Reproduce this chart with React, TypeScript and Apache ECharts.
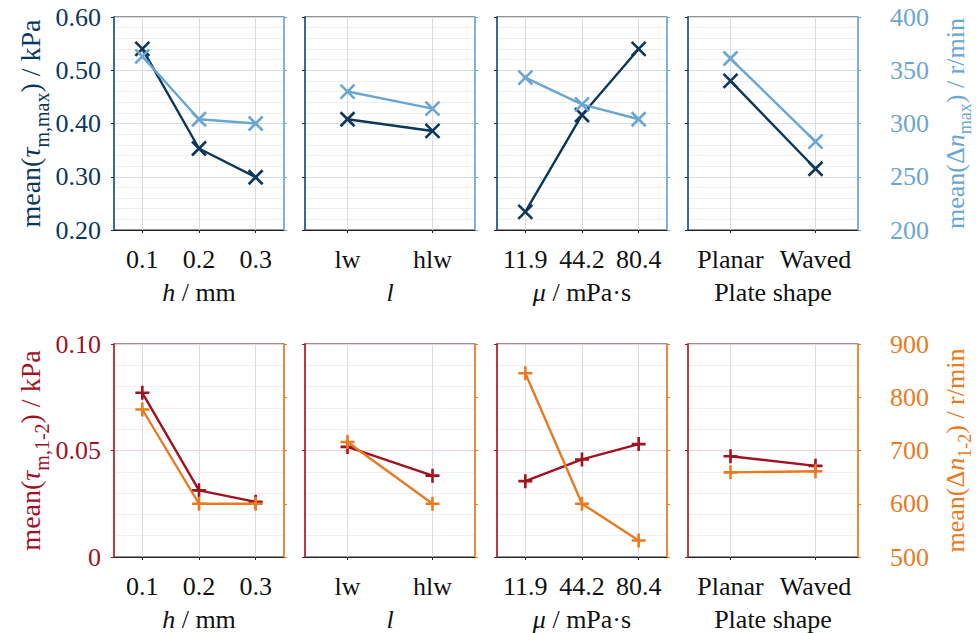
import React, { useEffect, useRef } from 'react';
import * as echarts from 'echarts';

// ---------- data ----------
const hCats = ['0.1', '0.2', '0.3'];
const lCats = ['lw', 'hlw'];
const muCats = ['11.9', '44.2', '80.4'];
const plateCats = ['Planar', 'Waved'];

// top row: mean(tau_m,max) / kPa (left) and mean(Δn_max) / r/min (right)
const tauMaxH = [0.54, 0.353, 0.299];
const nMaxH = [363, 304, 300];
const tauMaxL = [0.408, 0.386];
const nMaxL = [330, 314];
const tauMaxMu = [0.234, 0.416, 0.54];
const nMaxMu = [343, 318, 304];
const tauMaxPlate = [0.48, 0.315];
const nMaxPlate = [361, 283];

// bottom row: mean(tau_m,1-2) / kPa (left) and mean(Δn_1-2) / r/min (right)
const tau12H = [0.0771, 0.0313, 0.0259];
const n12H = [777, 600, 600];
const tau12L = [0.0517, 0.0382];
const n12L = [716, 600];
const tau12Mu = [0.0356, 0.0458, 0.053];
const n12Mu = [845, 600, 531];
const tau12Plate = [0.0473, 0.0428];
const n12Plate = [659, 661];

const xNames = ['{i|h}{a| / mm}', '{i|l}', '{i|μ}{a| / mPa·s}', '{a|Plate shape}'];

// ---------- style ----------
const SERIF = 'Liberation Serif';
const NAVY = '#0c375b';
const LBLUE = '#6ba6d2';
const RED = '#a0121f';
const ORANGE = '#ea7a22';
const INK = '#111111';
const FS = 26;

const COL_LEFT = [114, 305, 497, 688];
const ROW_TOP = [17, 344];
const W = 170;
const H = 213;

const X_SYM = 'path://M0,0L10,10M10,0L0,10';
const P_SYM = 'path://M5,0L5,10M0,5L10,5';

function nameRich(color: string, fs: number, sfs: number, drop: number) {
  return {
    a: { fontFamily: SERIF, fontSize: fs, color, lineHeight: fs, verticalAlign: 'top' },
    t: { fontFamily: SERIF, fontSize: fs, color, fontStyle: 'italic', lineHeight: fs, verticalAlign: 'top' },
    s: { fontFamily: SERIF, fontSize: sfs, color, lineHeight: sfs, verticalAlign: 'top', padding: [drop, 0, 0, 0] },
  };
}

function plainRich(color: string) {
  return {
    a: { fontFamily: SERIF, fontSize: FS, color },
    i: { fontFamily: SERIF, fontSize: FS, color, fontStyle: 'italic' },
  };
}

const rows = [
  {
    panels: [
      { cats: hCats, l: tauMaxH, r: nMaxH },
      { cats: lCats, l: tauMaxL, r: nMaxL },
      { cats: muCats, l: tauMaxMu, r: nMaxMu },
      { cats: plateCats, l: tauMaxPlate, r: nMaxPlate },
    ],
    lMin: 0.2, lMax: 0.6, lInt: 0.1,
    rMin: 200, rMax: 400, rInt: 50,
    lColor: NAVY, rColor: LBLUE,
    lAxis: '#3c6a92', rAxis: '#7fb2da',
    major: '#d5dce4', minor: '#eeeeee',
    sym: X_SYM,
    lName: '{a|mean(}{t|τ}{s|m,max}{a|) / kPa}',
    rName: '{a|mean(Δ}{t|n}{s|max}{a|) / r/min}',
  },
  {
    panels: [
      { cats: hCats, l: tau12H, r: n12H },
      { cats: lCats, l: tau12L, r: n12L },
      { cats: muCats, l: tau12Mu, r: n12Mu },
      { cats: plateCats, l: tau12Plate, r: n12Plate },
    ],
    lMin: 0, lMax: 0.1, lInt: 0.05,
    rMin: 500, rMax: 900, rInt: 100,
    lColor: RED, rColor: ORANGE,
    lAxis: '#bb3a45', rAxis: '#ee8a3c',
    major: '#f0d2d6', minor: '#f6eced',
    sym: P_SYM,
    lName: '{a|mean(}{t|τ}{s|m,1-2}{a|) / kPa}',
    rName: '{a|mean(Δ}{t|n}{s|1-2}{a|) / r/min}',
  },
];

function buildOption() {
  const grid: any[] = [];
  const xAxis: any[] = [];
  const yAxis: any[] = [];
  const series: any[] = [];

  rows.forEach((row, r) => {
    row.panels.forEach((p, c) => {
      const gi = r * 4 + c;
      grid.push({
        left: COL_LEFT[c], top: ROW_TOP[r], width: W, height: H,
        show: true, borderColor: '#262626', borderWidth: 1, backgroundColor: 'transparent',
      });
      xAxis.push({
        gridIndex: gi, type: 'category', data: p.cats, boundaryGap: true,
        axisLine: { show: true, lineStyle: { color: '#262626', width: 1 } },
        axisTick: { show: true, alignWithLabel: true, length: 3, lineStyle: { color: '#262626' } },
        axisLabel: {
          color: INK, fontFamily: SERIF, fontSize: FS, margin: 16, interval: 0,
          formatter: (v: string) => `{a|${v}}`, rich: plainRich(INK),
        },
        splitLine: { show: false },
        name: xNames[c], nameLocation: 'middle', nameGap: 49,
        nameTextStyle: { color: INK, fontFamily: SERIF, fontSize: FS, rich: plainRich(INK) },
      });
      yAxis.push({
        gridIndex: gi, type: 'value', position: 'left',
        min: row.lMin, max: row.lMax, interval: row.lInt,
        axisLine: { show: true, lineStyle: { color: row.lAxis, width: 2 } },
        axisTick: { show: true, length: 3, lineStyle: { color: row.lColor } },
        axisLabel: {
          show: c === 0, color: row.lColor, fontFamily: SERIF, fontSize: FS, margin: 13,
          formatter: (v: number) => `{a|${v === 0 ? '0' : v.toFixed(2)}}`,
          rich: plainRich(row.lColor),
        },
        splitLine: { show: true, lineStyle: { color: row.major, width: 1 } },
        minorTick: { show: false, splitNumber: 5 },
        minorSplitLine: { show: true, lineStyle: { color: row.minor, width: 1 } },
        name: c === 0 ? row.lName : '', nameLocation: 'middle', nameRotate: 90, nameGap: 66,
        nameTextStyle: { color: row.lColor, fontFamily: SERIF, fontSize: 28, rich: nameRich(row.lColor, 28, 20, 15) },
      });
      yAxis.push({
        gridIndex: gi, type: 'value', position: 'right',
        min: row.rMin, max: row.rMax, interval: row.rInt,
        axisLine: { show: true, lineStyle: { color: row.rAxis, width: 2 } },
        axisTick: { show: true, length: 3, lineStyle: { color: row.rColor } },
        axisLabel: {
          show: c === 3, color: row.rColor, fontFamily: SERIF, fontSize: FS, margin: 32,
          formatter: (v: number) => `{a|${v}}`, rich: plainRich(row.rColor),
        },
        splitLine: { show: false },
        name: c === 3 ? row.rName : '', nameLocation: 'middle', nameRotate: 90, nameGap: 84,
        nameTextStyle: { color: row.rColor, fontFamily: SERIF, fontSize: FS, rich: nameRich(row.rColor, 26, 18, 14) },
      });
      // vertical category grid lines
      series.push({
        type: 'line', xAxisIndex: gi, yAxisIndex: 2 * gi, data: [], silent: true, z: 1,
        markLine: {
          z: 1, silent: true, symbol: ['none', 'none'], label: { show: false },
          lineStyle: { color: '#dcdcdc', width: 1, type: 'solid' },
          emphasis: { disabled: true },
          data: p.cats.map((cat) => ({ xAxis: cat })),
        },
      });
      series.push({
        type: 'line', xAxisIndex: gi, yAxisIndex: 2 * gi, data: p.l, z: 3,
        symbol: row.sym, symbolSize: 14, showSymbol: true, silent: true,
        lineStyle: { color: row.lColor, width: 2.4 },
        itemStyle: { color: row.lColor, borderColor: row.lColor, borderWidth: 2.6 },
      });
      series.push({
        type: 'line', xAxisIndex: gi, yAxisIndex: 2 * gi + 1, data: p.r, z: 4,
        symbol: row.sym, symbolSize: 14, showSymbol: true, silent: true,
        lineStyle: { color: row.rColor, width: 2.4 },
        itemStyle: { color: row.rColor, borderColor: row.rColor, borderWidth: 2.6 },
      });
    });
  });

  return {
    animation: false,
    backgroundColor: '#ffffff',
    textStyle: { fontFamily: SERIF },
    grid, xAxis, yAxis, series,
  };
}

export default function App() {
  const ref = useRef<HTMLDivElement>(null);
  useEffect(() => {
    const chart = echarts.init(ref.current!, null, { renderer: 'svg' });
    chart.setOption(buildOption() as any);
    return () => chart.dispose();
  }, []);
  return (
    <div
      ref={ref}
      style={{ position: 'fixed', left: 0, top: 0, width: 979, height: 633, background: '#fff' }}
    />
  );
}
